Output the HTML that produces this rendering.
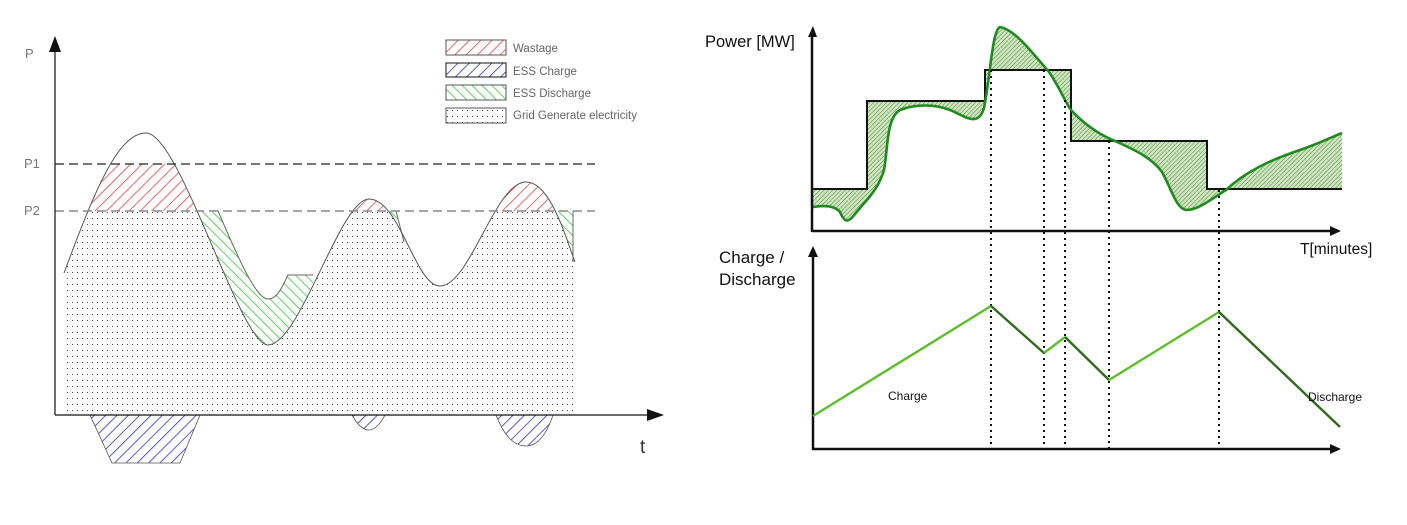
<!DOCTYPE html>
<html><head><meta charset="utf-8"><style>
html,body{margin:0;padding:0;background:#fff;}
svg{display:block;font-family:"Liberation Sans",Arial,sans-serif;}
</style></head><body>
<svg width="1407" height="525" viewBox="0 0 1407 525" xmlns="http://www.w3.org/2000/svg">
<defs>
<pattern id="red" width="8" height="8" patternUnits="userSpaceOnUse" patternTransform="rotate(45)"><line x1="0" y1="0" x2="0" y2="8" stroke="#e03a3a" stroke-width="1.5"/></pattern>
<pattern id="blue" width="8" height="8" patternUnits="userSpaceOnUse" patternTransform="rotate(45)"><line x1="0" y1="0" x2="0" y2="8" stroke="#2424c0" stroke-width="1.5"/></pattern>
<pattern id="green" width="7" height="7" patternUnits="userSpaceOnUse" patternTransform="rotate(-45)"><line x1="0" y1="0" x2="0" y2="7" stroke="#36c836" stroke-width="1.6"/></pattern>
<pattern id="dots" width="5" height="6" patternUnits="userSpaceOnUse"><rect x="2" y="2" width="1" height="1" fill="#444"/></pattern>
<pattern id="fine" width="3" height="3" patternUnits="userSpaceOnUse" patternTransform="rotate(45)"><rect width="3" height="3" fill="#cfe8c0"/><line x1="0" y1="0" x2="0" y2="3" stroke="#4a7a38" stroke-width="1"/></pattern>
<clipPath id="belowOuter"><path d="M64,273 C95,190 118,133 146,133 C180,133 240,345 268,345 C300,345 340,199 369,199 C400,199 415,286 440,286 C470,286 495,182 526,182 C550,182 565,235 575,262 L575,420 L64,420 Z"/></clipPath>
<clipPath id="band"><rect x="60" y="164" width="520" height="47"/></clipPath>
<clipPath id="lower"><rect x="60" y="211" width="520" height="200"/></clipPath>
</defs>

<g clip-path="url(#lower)">
<path d="M200,211 L218,211 C235,250 255,299 268,299 C278,299 283,285 288,275 L313,275 L313,420 L200,420 Z" fill="url(#green)"/>
<path d="M385,211 L396,211 L404,242 L404,420 L385,420 Z" fill="url(#green)"/>
<path d="M553,211 L573,211 L573,262 L573,420 L553,420 Z" fill="url(#green)"/>
<g clip-path="url(#belowOuter)">
<rect x="60" y="211" width="520" height="200" fill="#fff"/>
<rect x="64" y="211" width="509" height="200" fill="url(#dots)"/>
</g>
</g>
<g clip-path="url(#band)"><g clip-path="url(#belowOuter)"><rect x="60" y="164" width="520" height="47" fill="url(#red)"/></g></g>
<path d="M218,211 C235,250 255,299 268,299 C278,299 283,285 288,275 L313,275" fill="none" stroke="#666" stroke-width="1"/>
<path d="M396,211 L404,242" fill="none" stroke="#666" stroke-width="1"/>
<path d="M573,211 L573,262" fill="none" stroke="#666" stroke-width="1"/>
<path d="M64,273 C95,190 118,133 146,133 C180,133 240,345 268,345 C300,345 340,199 369,199 C400,199 415,286 440,286 C470,286 495,182 526,182 C550,182 565,235 575,262" fill="none" stroke="#555" stroke-width="1"/>
<path d="M90,415 L200,415 L180,463 L112,463 Z" fill="url(#blue)" stroke="#555" stroke-width="0.8"/>
<path d="M352,415 Q369,445 385,415 Z" fill="url(#blue)" stroke="#555" stroke-width="0.8"/>
<path d="M496,415 C505,438 515,446 526,446 C540,446 548,430 553,415 Z" fill="url(#blue)" stroke="#555" stroke-width="0.8"/>
<line x1="55" y1="164" x2="595" y2="164" stroke="#222" stroke-width="1.3" stroke-dasharray="9,5"/>
<line x1="55" y1="211" x2="595" y2="211" stroke="#888" stroke-width="1.6" stroke-dasharray="9,5"/>
<line x1="55" y1="50" x2="55" y2="415" stroke="#111" stroke-width="1.2"/>
<polygon points="55,36 49,52 61,52" fill="#111"/>
<line x1="55" y1="415" x2="648" y2="415" stroke="#111" stroke-width="1.2"/>
<polygon points="664,415 647,409 647,421" fill="#111"/>
<text x="25" y="58" font-size="13" fill="#777">P</text>
<text x="24" y="168" font-size="13" fill="#777">P1</text>
<text x="24" y="215" font-size="13" fill="#777">P2</text>
<text x="640" y="453" font-size="19" fill="#333">t</text>
<rect x="446" y="40" width="60" height="15" fill="url(#red)" stroke="#555"/>
<rect x="446" y="63" width="60" height="14" fill="url(#blue)" stroke="#111"/>
<rect x="446" y="85" width="60" height="15" fill="url(#green)" stroke="#555"/>
<rect x="446" y="108" width="60" height="15" fill="url(#dots)" stroke="#555"/>
<g font-size="11.5" fill="#666">
<text x="513" y="52">Wastage</text>
<text x="513" y="75">ESS Charge</text>
<text x="513" y="97">ESS Discharge</text>
<text x="513" y="119">Grid Generate electricity</text>
</g>

<path fill-rule="evenodd" fill="url(#fine)" d="M813,207 C825,205 835,206 840,212 C845,224 849,222 855,214 C868,198 878,190 884,170 C888,150 886,118 900,110 C915,104 935,104 950,110 C965,116 978,128 984,108 C990,80 992,30 1000,27 C1015,30 1030,50 1049,72 C1060,88 1065,102 1071,110 C1085,125 1100,135 1115,141 C1135,150 1152,158 1162,172 C1172,190 1176,208 1186,210 C1198,210 1210,200 1226,190 C1245,172 1270,160 1300,150 C1320,143 1332,137 1342,133 L1342,189 L1207,189 L1207,141 L1071,141 L1071,70 L985,70 L985,101 L867,101 L867,189 L813,189 Z"/>
<path fill="none" stroke="#111" stroke-width="2" d="M812,189 L867,189 L867,101 L985,101 L985,70 L1071,70 L1071,141 L1207,141 L1207,189 L1342,189"/>
<path fill="none" stroke="#1f8a1f" stroke-width="2.6" d="M813,207 C825,205 835,206 840,212 C845,224 849,222 855,214 C868,198 878,190 884,170 C888,150 886,118 900,110 C915,104 935,104 950,110 C965,116 978,128 984,108 C990,80 992,30 1000,27 C1015,30 1030,50 1049,72 C1060,88 1065,102 1071,110 C1085,125 1100,135 1115,141 C1135,150 1152,158 1162,172 C1172,190 1176,208 1186,210 C1198,210 1210,200 1226,190 C1245,172 1270,160 1300,150 C1320,143 1332,137 1342,133"/>
<g stroke="#111" stroke-width="2" stroke-dasharray="2,4">
<line x1="991" y1="70" x2="991" y2="449"/>
<line x1="1044" y1="70" x2="1044" y2="449"/>
<line x1="1065" y1="100" x2="1065" y2="449"/>
<line x1="1109" y1="141" x2="1109" y2="449"/>
<line x1="1219" y1="190" x2="1219" y2="449"/>
</g>
<line x1="812" y1="34" x2="812" y2="232" stroke="#111" stroke-width="2.5"/>
<polygon points="813,26 808,37 817,37" fill="#111"/>
<line x1="812" y1="231" x2="1332" y2="231" stroke="#111" stroke-width="2.5"/>
<polygon points="1341,231 1330,226 1330,236" fill="#111"/>
<line x1="813" y1="255" x2="813" y2="450" stroke="#111" stroke-width="2.5"/>
<polygon points="813,246 808,257 818,257" fill="#111"/>
<line x1="812" y1="449" x2="1332" y2="449" stroke="#111" stroke-width="2.5"/>
<polygon points="1341,449 1330,444 1330,454" fill="#111"/>
<g fill="none" stroke-width="2.4">
<polyline points="813,416 991,306" stroke="#5cbf2a"/>
<polyline points="991,306 1044,353" stroke="#2e6b1e"/>
<polyline points="1044,353 1065,337" stroke="#5cbf2a"/>
<polyline points="1065,337 1109,380" stroke="#2e6b1e"/>
<polyline points="1109,380 1219,312" stroke="#5cbf2a"/>
<polyline points="1219,312 1340,427" stroke="#2e6b1e"/>
</g>
<text x="705" y="47" font-size="16.5" fill="#111">Power [MW]</text>
<text x="1300" y="254" font-size="15.5" fill="#111">T[minutes]</text>
<text x="719" y="263" font-size="17" fill="#111">Charge /</text>
<text x="719" y="285" font-size="17" fill="#111">Discharge</text>
<text x="888" y="400" font-size="12" fill="#111">Charge</text>
<text x="1308" y="401" font-size="12" fill="#111">Discharge</text>
</svg>
</body></html>
